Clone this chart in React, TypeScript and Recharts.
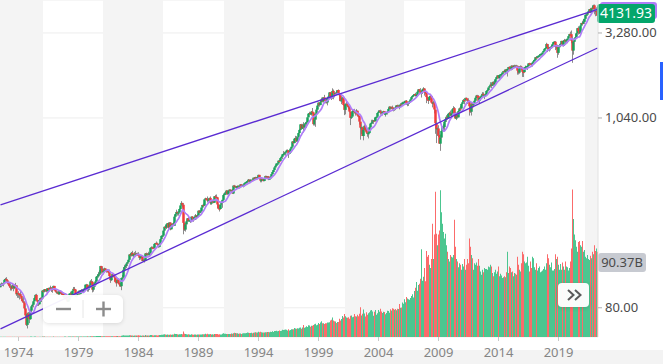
import React from "react";
import {
  ComposedChart,
  Bar,
  Line,
  Cell,
  XAxis,
  YAxis,
  CartesianGrid,
  ReferenceArea,
  ReferenceLine,
} from "recharts";

// monthly candles, Jul 1972 .. Apr 2022
const FIRST_YEAR = 1972;
const FIRST_MONTH = 7;
const PREV_CLOSE = 107.1;

const closes = [
  107.4, 111.1, 110.6, 111.6, 116.7, 118.1,
  116.0, 111.7, 111.5, 107.0, 105.0, 104.3, 108.2, 104.3, 108.4, 108.3, 96.0, 97.6,
  96.6, 96.2, 94.0, 90.3, 87.3, 86.0, 79.3, 72.2, 63.5, 73.9, 70.0, 68.6,
  77.0, 81.6, 83.4, 87.3, 91.2, 95.2, 88.8, 86.9, 83.9, 89.0, 91.2, 90.2,
  100.9, 99.7, 102.8, 101.6, 100.2, 104.3, 103.4, 102.9, 105.2, 102.9, 102.1, 107.5,
  102.0, 99.8, 98.4, 98.4, 96.1, 100.5, 98.9, 96.8, 96.5, 92.3, 94.8, 95.1,
  89.3, 87.0, 89.2, 96.8, 97.2, 95.5, 100.7, 103.3, 102.5, 93.2, 94.7, 96.1,
  99.9, 96.3, 101.6, 101.8, 99.1, 102.9, 103.8, 109.3, 109.3, 101.8, 106.2, 107.9,
  114.2, 113.7, 102.1, 106.3, 111.2, 114.2, 121.7, 122.4, 125.5, 127.5, 140.5, 135.8,
  129.6, 131.3, 136.0, 132.8, 132.6, 131.2, 130.9, 122.8, 116.2, 121.9, 126.4, 122.6,
  120.4, 113.1, 112.0, 116.4, 111.9, 109.6, 107.1, 119.5, 120.4, 133.7, 138.5, 140.6,
  145.3, 148.1, 153.0, 164.4, 162.4, 168.1, 162.6, 164.4, 166.1, 163.6, 166.4, 164.9,
  163.4, 157.1, 159.2, 160.1, 150.6, 153.2, 150.7, 166.7, 166.1, 166.1, 163.6, 167.2,
  179.6, 181.2, 180.7, 179.8, 189.6, 191.9, 190.9, 188.6, 182.1, 189.8, 202.2, 211.3,
  212, 227, 239, 236, 247, 251, 236, 253, 231, 244, 249, 242,
  274, 284, 292, 288, 290, 304, 319, 330, 322, 252, 230, 247,
  257, 268, 259, 261, 262, 274, 272, 262, 272, 279, 274, 278,
  297, 289, 295, 310, 321, 318, 346, 351, 349, 340, 346, 353,
  329, 332, 340, 331, 361, 358, 356, 323, 306, 304, 322, 330,
  344, 367, 375, 375, 390, 371, 388, 395, 388, 392, 375, 417,
  409, 413, 404, 415, 415, 408, 424, 414, 418, 419, 431, 436,
  439, 443, 452, 440, 450, 451, 448, 464, 459, 468, 462, 466,
  482, 467, 446, 451, 457, 444, 458, 475, 463, 472, 454, 459,
  470, 487, 501, 515, 533, 545, 562, 562, 584, 582, 605, 616,
  636, 640, 646, 654, 669, 671, 640, 652, 687, 705, 757, 741,
  786, 791, 757, 801, 848, 885, 954, 899, 947, 915, 955, 970,
  980, 1049, 1102, 1112, 1091, 1134, 1121, 957, 1017, 1099, 1164, 1229,
  1280, 1238, 1286, 1335, 1302, 1373, 1329, 1320, 1283, 1363, 1389, 1469,
  1394, 1366, 1499, 1452, 1421, 1455, 1431, 1518, 1437, 1429, 1315, 1320,
  1366, 1240, 1160, 1249, 1256, 1224, 1211, 1134, 1041, 1060, 1139, 1148,
  1130, 1107, 1147, 1077, 1067, 990, 912, 916, 815, 886, 936, 880,
  856, 841, 848, 917, 964, 975, 990, 1008, 996, 1051, 1058, 1112,
  1131, 1145, 1126, 1107, 1121, 1141, 1102, 1104, 1115, 1130, 1174, 1212,
  1181, 1204, 1181, 1157, 1192, 1191, 1234, 1220, 1229, 1207, 1249, 1248,
  1280, 1281, 1295, 1311, 1270, 1270, 1277, 1304, 1336, 1378, 1401, 1418,
  1438, 1407, 1421, 1482, 1531, 1503, 1455, 1474, 1527, 1549, 1481, 1468,
  1379, 1331, 1323, 1386, 1400, 1280, 1267, 1283, 1166, 969, 896, 903,
  826, 735, 798, 873, 919, 919, 987, 1021, 1057, 1036, 1096, 1115,
  1074, 1104, 1169, 1187, 1089, 1031, 1102, 1049, 1141, 1183, 1181, 1258,
  1286, 1327, 1326, 1364, 1345, 1321, 1292, 1219, 1131, 1253, 1247, 1258,
  1312, 1366, 1408, 1398, 1310, 1362, 1379, 1407, 1441, 1412, 1416, 1426,
  1498, 1515, 1569, 1598, 1631, 1606, 1686, 1633, 1682, 1757, 1806, 1848,
  1783, 1859, 1872, 1884, 1924, 1960, 1931, 2003, 1972, 2018, 2068, 2059,
  1995, 2105, 2068, 2086, 2107, 2063, 2104, 1972, 1920, 2079, 2080, 2044,
  1940, 1932, 2060, 2065, 2097, 2099, 2174, 2171, 2168, 2126, 2199, 2239,
  2279, 2364, 2363, 2384, 2412, 2423, 2470, 2472, 2519, 2575, 2648, 2674,
  2824, 2714, 2641, 2648, 2705, 2718, 2816, 2902, 2914, 2712, 2760, 2507,
  2704, 2784, 2834, 2946, 2752, 2942, 2980, 2926, 2977, 3038, 3141, 3231,
  3226, 2954, 2585, 2912, 3044, 3100, 3271, 3500, 3363, 3270, 3622, 3756,
  3714, 3811, 3973, 4181, 4204, 4298, 4395, 4523, 4308, 4605, 4567, 4766,
  4516, 4374, 4530, 4132,
];

const highs = [
  110, 112.6, 112, 112, 117.8, 119.8,
  121, 117, 114, 112, 112, 108, 110, 109, 110, 112, 108.5, 98,
  100, 97, 101, 94.5, 92, 93, 87, 82.5, 72.5, 75, 75.5, 71,
  78, 82.5, 84.5, 88, 92, 96, 96.6, 89, 87.5, 90.5, 92, 91.5,
  101.5, 101, 103, 103, 102.5, 104.5, 105, 105, 107.8, 105.5, 103.5, 107.8,
  107.5, 102.5, 101, 100, 99.5, 101, 101, 99, 97.5, 97, 96, 95.5,
  95, 90.5, 89.5, 97, 99.5, 99.5, 101, 106, 106, 103, 96.5, 97,
  101, 100, 101.6, 103, 102, 103, 104.5, 109.5, 110.5, 110, 106.5, 109,
  116, 118, 115, 107, 112, 116.5, 123, 126, 130, 133, 141, 141,
  139, 132, 137.5, 136.5, 134, 135, 132, 134, 123, 123.5, 127, 127,
  123, 121, 114, 119, 119, 113, 112, 120, 124.5, 138.5, 143, 143,
  147, 149, 154, 165, 166.5, 170, 172.7, 165.5, 170, 172.7, 168, 168.5,
  169.5, 163.5, 161.5, 161, 162, 155, 154.5, 167.5, 168.5, 167.5, 170.5, 168.5,
  180.5, 183.5, 183, 183, 190, 192.5, 196, 193, 189, 191, 203, 213,
  214, 228, 240, 244, 248, 251, 253, 254, 254, 244, 251, 254,
  280, 285, 301, 294, 296, 306, 319, 338, 330, 328, 256, 248,
  260, 269, 272, 264, 263, 275, 276, 273, 273, 284, 280, 283,
  298, 300, 298, 310, 322, 327, 346, 354, 352, 360, 347, 354,
  360, 336, 344, 345, 362, 368, 370, 358, 326, 314, 324, 331,
  345, 370, 381, 384, 391, 391, 389, 396, 396, 394, 398, 418,
  421, 416, 413, 418, 419, 416, 425, 425, 423, 423, 432, 437,
  443, 448, 456, 452, 454, 452, 451, 464, 464, 470, 469, 471,
  483, 482, 472, 454, 459, 461, 459, 477, 476, 474, 475, 464,
  472, 488, 504, 515, 535, 551, 563, 565, 586, 590, 608, 622,
  638, 665, 659, 658, 678, 680, 673, 667, 691, 707, 759, 762,
  794, 817, 814, 805, 851, 898, 957, 961, 960, 983, 960, 986,
  993, 1050, 1106, 1131, 1122, 1141, 1190, 1121, 1066, 1104, 1193, 1245,
  1280, 1280, 1317, 1370, 1375, 1373, 1421, 1353, 1361, 1377, 1410, 1474,
  1479, 1445, 1553, 1527, 1482, 1474, 1497, 1518, 1530, 1450, 1433, 1390,
  1384, 1376, 1264, 1269, 1316, 1286, 1236, 1220, 1134, 1110, 1163, 1173,
  1177, 1131, 1173, 1147, 1106, 1070, 994, 965, 925, 907, 952, 954,
  935, 864, 896, 924, 966, 1015, 1016, 1011, 1040, 1053, 1063, 1112,
  1155, 1158, 1163, 1150, 1128, 1146, 1141, 1109, 1131, 1142, 1188, 1217,
  1212, 1212, 1229, 1192, 1199, 1219, 1237, 1245, 1243, 1233, 1271, 1276,
  1295, 1297, 1310, 1318, 1326, 1284, 1281, 1311, 1340, 1389, 1407, 1431,
  1441, 1462, 1439, 1499, 1535, 1540, 1556, 1504, 1539, 1576, 1552, 1524,
  1471, 1396, 1359, 1404, 1441, 1405, 1292, 1314, 1303, 1167, 1007, 919,
  943, 877, 832, 876, 930, 956, 997, 1039, 1080, 1101, 1111, 1130,
  1150, 1113, 1180, 1220, 1205, 1132, 1120, 1129, 1150, 1197, 1227, 1263,
  1303, 1345, 1333, 1367, 1371, 1346, 1357, 1308, 1230, 1293, 1277, 1270,
  1334, 1378, 1420, 1422, 1415, 1364, 1392, 1427, 1475, 1471, 1434, 1448,
  1504, 1531, 1570, 1598, 1687, 1655, 1698, 1709, 1730, 1765, 1813, 1849,
  1851, 1867, 1884, 1897, 1924, 1968, 1991, 2005, 2019, 2019, 2076, 2093,
  2065, 2119, 2118, 2126, 2135, 2131, 2133, 2113, 2021, 2094, 2117, 2105,
  2038, 1962, 2073, 2111, 2104, 2121, 2178, 2194, 2188, 2169, 2214, 2278,
  2301, 2372, 2401, 2398, 2418, 2454, 2484, 2491, 2520, 2582, 2657, 2695,
  2873, 2835, 2802, 2718, 2742, 2791, 2848, 2917, 2941, 2940, 2816, 2800,
  2708, 2813, 2860, 2950, 2954, 2964, 3028, 3014, 3022, 3050, 3156, 3248,
  3338, 3394, 3137, 2955, 3068, 3233, 3280, 3515, 3588, 3550, 3646, 3760,
  3870, 3951, 3981, 4218, 4238, 4302, 4429, 4537, 4546, 4608, 4744, 4808,
  4819, 4595, 4637, 4593,
];

const lows = [
  105.5, 106.5, 108, 106.8, 111, 114,
  114, 110, 108, 105, 101, 101, 103, 100, 103, 106, 94, 91.5,
  91.5, 89.5, 93, 88, 86, 85, 78, 71.5, 62.5, 60.5, 68, 65,
  68, 76, 80.5, 80.5, 87, 89.5, 88, 82, 82, 83.5, 88, 86.5,
  90, 98, 98.5, 99.5, 98.5, 99.5, 102.5, 101, 102, 99, 98, 102,
  101.5, 99, 97.5, 97, 95.5, 95.5, 98, 95.5, 95.5, 91.5, 90.5, 92.5,
  88.5, 86.5, 86.5, 88.5, 95.5, 94.5, 94.5, 100, 101, 92.5, 92, 93,
  96, 95.5, 96, 100, 98, 98.5, 101.5, 103.5, 106, 99.5, 99.5, 106,
  104.5, 111, 98.5, 99.5, 104.5, 110.5, 113, 119, 121, 123.5, 125, 127,
  128.5, 125.5, 130, 131, 128.5, 129, 127.5, 122, 112, 115, 120.5, 121.5,
  114.5, 112.5, 106.5, 111.5, 110, 106.5, 106, 101.5, 117, 120, 131, 133,
  137, 141, 147, 152, 159.5, 160, 160.5, 158.5, 162.5, 161.5, 161.5, 161.5,
  162, 152.5, 153.5, 155.5, 150, 148.5, 147.5, 150.5, 162, 161.5, 162, 161,
  163.5, 177.5, 176.5, 177, 178, 187, 189, 186, 180, 181, 189, 200,
  203, 211, 225, 232, 232, 240, 233, 234, 228, 231, 239, 241,
  242, 271, 282, 278, 278, 289, 302, 317, 310, 216, 226, 224,
  242, 255, 257, 256, 252, 261, 264, 256, 261, 271, 264, 272,
  274, 287, 287, 292, 308, 316, 317, 340, 343, 332, 336, 342,
  322, 322, 331, 329, 330, 357, 355, 306, 304, 294, 303, 322,
  309, 342, 363, 371, 372, 369, 370, 380, 384, 381, 374, 372,
  406, 406, 400, 401, 410, 401, 406, 412, 413, 407, 418, 425,
  428, 431, 441, 437, 438, 442, 442, 446, 455, 458, 457, 461,
  464, 466, 436, 436, 443, 441, 442, 456, 461, 459, 449, 451,
  458, 469, 485, 499, 512, 530, 543, 553, 560, 573, 580, 602,
  597, 632, 628, 625, 651, 660, 606, 636, 649, 685, 703, 721,
  738, 771, 755, 733, 800, 841, 883, 898, 899, 855, 902, 924,
  912, 979, 1047, 1097, 1085, 1074, 1114, 940, 939, 923, 1098, 1136,
  1205, 1212, 1236, 1281, 1288, 1281, 1329, 1268, 1263, 1233, 1341, 1387,
  1350, 1326, 1347, 1339, 1374, 1420, 1420, 1430, 1420, 1306, 1310, 1254,
  1275, 1228, 1081, 1092, 1243, 1203, 1168, 1124, 945, 1026, 1054, 1114,
  1107, 1074, 1106, 1064, 1048, 952, 776, 838, 815, 769, 873, 872,
  841, 807, 789, 848, 902, 963, 962, 960, 990, 995, 1031, 1053,
  1106, 1124, 1088, 1107, 1076, 1113, 1084, 1060, 1102, 1090, 1128, 1173,
  1163, 1180, 1176, 1137, 1146, 1188, 1191, 1201, 1201, 1169, 1201, 1246,
  1245, 1253, 1277, 1280, 1245, 1219, 1224, 1260, 1290, 1327, 1360, 1394,
  1403, 1389, 1364, 1416, 1476, 1484, 1452, 1371, 1439, 1489, 1407, 1435,
  1271, 1317, 1257, 1313, 1373, 1272, 1200, 1248, 1106, 840, 741, 815,
  805, 735, 667, 784, 866, 888, 869, 979, 992, 1020, 1029, 1086,
  1071, 1045, 1105, 1170, 1040, 1029, 1011, 1040, 1049, 1132, 1173, 1182,
  1257, 1282, 1249, 1299, 1311, 1258, 1283, 1074, 1114, 1075, 1159, 1202,
  1259, 1310, 1341, 1358, 1292, 1267, 1325, 1378, 1397, 1403, 1343, 1398,
  1426, 1485, 1502, 1536, 1581, 1560, 1605, 1627, 1633, 1646, 1746, 1767,
  1770, 1737, 1834, 1814, 1860, 1915, 1930, 1905, 1964, 1821, 2001, 1973,
  1988, 1981, 2039, 2048, 2068, 2056, 2044, 1867, 1872, 1893, 2020, 1993,
  1812, 1810, 1937, 2034, 2026, 1992, 2074, 2147, 2120, 2097, 2084, 2188,
  2245, 2272, 2322, 2329, 2353, 2405, 2407, 2418, 2447, 2520, 2566, 2605,
  2683, 2533, 2585, 2553, 2594, 2698, 2699, 2796, 2864, 2603, 2631, 2347,
  2444, 2682, 2722, 2849, 2750, 2729, 2952, 2822, 2891, 2856, 3051, 3070,
  3214, 2855, 2192, 2447, 2767, 2999, 3101, 3205, 3210, 3234, 3279, 3633,
  3662, 3725, 3723, 3955, 4056, 4165, 4234, 4368, 4306, 4279, 4560, 4495,
  4223, 4115, 4157, 4124,
];

// monthly volume, billions
const volumes = [
  0.3, 0.3, 0.3, 0.3, 0.4, 0.4,
  0.4, 0.3, 0.3, 0.3, 0.3, 0.3, 0.3, 0.3, 0.3, 0.4, 0.4, 0.4,
  0.3, 0.3, 0.3, 0.3, 0.3, 0.3, 0.3, 0.3, 0.3, 0.4, 0.3, 0.3,
  0.5, 0.5, 0.4, 0.4, 0.5, 0.5, 0.4, 0.3, 0.3, 0.3, 0.3, 0.3,
  0.6, 0.6, 0.5, 0.4, 0.4, 0.4, 0.4, 0.4, 0.4, 0.4, 0.4, 0.5,
  0.4, 0.4, 0.4, 0.4, 0.4, 0.4, 0.4, 0.4, 0.4, 0.4, 0.5, 0.5,
  0.4, 0.4, 0.5, 0.6, 0.6, 0.5, 0.6, 0.7, 0.6, 0.6, 0.5, 0.5,
  0.6, 0.6, 0.6, 0.6, 0.6, 0.6, 0.6, 0.7, 0.7, 0.8, 0.7, 0.7,
  1.0, 0.9, 0.9, 0.8, 0.8, 0.9, 1.1, 1.1, 1.1, 1.1, 1.1, 1.0,
  1.0, 0.9, 1.0, 1.0, 0.9, 0.9, 0.8, 0.9, 1.0, 1.0, 1.0, 0.9,
  1.0, 1.0, 1.1, 1.1, 1.0, 1.0, 1.0, 1.6, 1.7, 2.0, 1.8, 1.7,
  1.9, 1.9, 1.9, 2.0, 2.0, 1.9, 1.7, 1.6, 1.7, 1.8, 1.9, 1.7,
  2.0, 1.8, 1.7, 1.6, 1.7, 1.7, 1.6, 2.4, 1.8, 1.9, 1.8, 1.8,
  2.3, 2.3, 2.0, 1.9, 2.2, 2.0, 2.1, 1.9, 2.0, 2.3, 2.5, 2.8,
  2.8, 2.9, 3.3, 3.1, 2.8, 2.9, 2.8, 2.8, 3.0, 2.6, 3.0, 3.1,
  3.9, 3.7, 3.8, 3.5, 3.0, 3.3, 3.4, 3.8, 3.4, 6.8, 3.9, 3.6,
  3.4, 3.2, 3.3, 2.9, 2.8, 3.4, 2.9, 2.8, 2.9, 3.0, 2.8, 2.9,
  3.2, 3.1, 3.1, 3.1, 3.5, 3.4, 3.3, 3.9, 3.5, 3.9, 3.4, 3.5,
  3.6, 3.1, 3.3, 3.1, 3.8, 3.6, 3.6, 3.8, 3.2, 3.3, 3.1, 3.2,
  3.9, 4.6, 4.1, 3.9, 3.8, 3.8, 3.8, 3.6, 3.8, 4.3, 4.1, 4.6,
  5.1, 4.8, 4.5, 4.5, 3.9, 4.3, 4.2, 3.8, 4.4, 4.6, 4.5, 4.5,
  5.0, 5.4, 5.1, 5.0, 5.0, 5.2, 4.7, 5.1, 5.6, 5.9, 5.5, 5.4,
  6.4, 5.8, 6.5, 5.9, 5.6, 5.6, 5.4, 5.9, 5.9, 6.1, 6.0, 5.9,
  6.5, 6.2, 6.9, 6.2, 7.2, 7.4, 7.6, 7.1, 7.3, 7.8, 7.4, 7.6,
  8.9, 8.4, 8.7, 9.1, 8.9, 7.9, 9.4, 7.9, 8.6, 9.3, 9.4, 9.5,
  11.0, 10.5, 10.0, 10.6, 10.3, 11.4, 11.7, 10.2, 11.5, 14.5, 11.2, 12.0,
  13.0, 12.3, 14.4, 14.1, 12.6, 13.8, 13.8, 14.6, 15.6, 16.3, 14.4, 15.0,
  17.0, 15.8, 17.6, 19.2, 16.9, 16.7, 16.0, 16.7, 16.8, 17.6, 17.7, 18.1,
  20.2, 20.9, 23.9, 20.1, 19.2, 19.0, 17.1, 18.4, 18.4, 22.3, 20.2, 22.0,
  25.5, 23.7, 28.0, 25.4, 23.9, 23.4, 24.0, 22.2, 26.0, 26.3, 24.1, 24.6,
  28.1, 25.4, 25.1, 27.2, 25.2, 28.5, 36.4, 26.3, 28.3, 33.6, 28.6, 24.9,
  30.3, 27.2, 29.1, 30.3, 32.2, 33.0, 31.1, 25.9, 30.7, 33.0, 27.0, 28.9,
  33.0, 30.8, 34.4, 31.0, 29.2, 30.7, 30.5, 27.6, 29.2, 31.9, 31.7, 29.6,
  33.9, 32.4, 35.1, 34.5, 33.2, 34.2, 32.5, 34.5, 34.0, 40.2, 35.7, 36.0,
  42, 40.5, 46, 42.5, 48.7, 47, 46, 45.5, 47.5, 50, 52, 48.2,
  56, 60.2, 67, 56.5, 63.5, 65, 71, 107, 68.5, 73.5, 84, 68,
  105, 98, 100, 88, 84, 95, 138, 95, 125, 177, 126, 112,
  125, 130, 179, 152, 138, 128, 120, 126, 112, 104, 95, 92,
  100, 98, 97, 100, 143, 110, 95, 92, 85, 90, 88, 82,
  89, 86, 95, 82, 88, 95, 90, 120, 110, 100, 96, 82,
  90, 88, 91, 87, 95, 87, 80, 76, 82, 79, 84, 83,
  83, 82, 86, 85, 88, 86, 78, 74, 79, 82, 77, 80,
  86, 74, 77, 75, 72, 73, 74, 73, 79, 104, 78, 86,
  84, 79, 80, 74, 78, 77, 76, 98, 88, 82, 80, 90,
  104, 101, 92, 90, 91, 98, 87, 80, 92, 84, 98, 96,
  85, 82, 90, 81, 84, 86, 79, 80, 81, 83, 86, 82,
  90, 101, 96, 88, 85, 91, 81, 81, 83, 101, 95, 98,
  88, 82, 89, 82, 91, 86, 82, 92, 86, 85, 81, 84,
  92, 108, 180, 144, 125, 118, 110, 104, 116, 117, 112, 110,
  117, 104, 106, 98, 96, 100, 95, 94, 99, 96, 104, 101,
  112, 105, 108, 104,
];

const yearTicks = ["1974", "1979", "1984", "1989", "1994", "1999", "2004", "2009", "2014", "2019"];
const priceTicks = [80, 1040, 3280];
const upperTrend = [321, 4506];
const lowerTrend = [60.1, 2678];
const lastPriceLabel = "4131.93";
const lastPrice = 4131.93;
const lastVolume = 90.37;
const lastVolumeLabel = "90.37B";
const MA_LEN = 9;

// alternating background bands (month index ranges)
const bands = [
  [0, 42],
  [103, 162],
  [224, 283],
  [345, 403],
  [465, 524],
  [585, 597],
];

const GREEN = "#17a45c";
const RED = "#f23b3b";
const WICK = "#8c8c8c";
const VOL_GREEN = "#4cc690";
const VOL_RED = "#fb6b6b";
const TREND = "#5a2bd2";
const MA_COLOR = "#b07ef8";
const FONT = "'Noto Sans', 'Open Sans', sans-serif";

const last = closes.length - 1;
const rows = closes.map((close, i) => {
  const open = i === 0 ? PREV_CLOSE : closes[i - 1];
  const m = FIRST_MONTH - 1 + i;
  const win = closes.slice(Math.max(0, i - MA_LEN + 1), i + 1);
  return {
    i,
    year: FIRST_YEAR + Math.floor(m / 12),
    month: (m % 12) + 1,
    open,
    close,
    high: Math.max(highs[i], open, close),
    low: Math.min(lows[i], open, close),
    vol: volumes[i],
    ma: win.reduce((a, b) => a + b, 0) / win.length,
    ut: i === 0 ? upperTrend[0] : i === last ? upperTrend[1] : null,
    lt: i === 0 ? lowerTrend[0] : i === last ? lowerTrend[1] : null,
  };
});

const tickIdx = yearTicks.map(
  (y) => rows.find((r) => r.year === Number(y) && r.month === 1)!.i
);
const yearOf = (i: number) => String(rows[i]?.year ?? "");

const Candle = (props: any) => {
  const { x, y, width, height, payload } = props;
  if (payload == null || y == null || height == null) return null;
  const { open, close, high, low } = payload;
  const lh = Math.log(high);
  const ll = Math.log(low);
  const py = (v: number) => y + (height * (lh - Math.log(v))) / (lh - ll || 1);
  const cx = x + width / 2;
  const top = py(Math.max(open, close));
  const bot = py(Math.min(open, close));
  return (
    <g>
      <rect x={cx - 0.5} y={y} width={1} height={Math.max(height, 1)} fill={WICK} />
      <rect
        x={cx - 1.25}
        y={top}
        width={2.5}
        height={Math.max(bot - top, 1.2)}
        fill={close >= open ? GREEN : RED}
      />
    </g>
  );
};

const PriceTick = ({ y, payload }: any) => (
  <text x={605} y={y + 4.5} fill="#4a4a4a" fontSize={13} fontFamily={FONT}>
    {Number(payload.value).toLocaleString("en-US", { minimumFractionDigits: 2 })}
  </text>
);

const YearTick = ({ x, payload }: any) => (
  <text x={x} y={357} textAnchor="middle" fill="#858585" fontSize={13} fontFamily={FONT}>
    {yearOf(payload.value)}
  </text>
);

const MaTag = ({ viewBox }: any) => (
  <rect x={viewBox.x + viewBox.width + 2} y={viewBox.y - 8} width={57} height={17} rx={3} fill={MA_COLOR} />
);

const PriceTag = ({ viewBox }: any) => (
  <g>
    <rect x={viewBox.x + viewBox.width - 1} y={viewBox.y - 12} width={58} height={19} rx={3} fill="#04a66b" />
    <text
      x={viewBox.x + viewBox.width + 28}
      y={viewBox.y + 2.5}
      textAnchor="middle"
      fill="#ffffff"
      fontSize={14}
      fontFamily={FONT}
    >
      {lastPriceLabel}
    </text>
  </g>
);

const VolumeTag = ({ viewBox }: any) => (
  <g>
    <rect x={viewBox.x + viewBox.width} y={viewBox.y - 10} width={48} height={19} rx={3} fill="#c7cad1" />
    <text x={viewBox.x + viewBox.width + 24} y={viewBox.y + 4} textAnchor="middle" fill="#4a4a4a" fontSize={13} fontFamily={FONT}>
      {lastVolumeLabel}
    </text>
  </g>
);

const App = () => {
  return (
    <div style={{ position: "absolute", left: 0, top: 0, width: 663, height: 364, background: "#fff", overflow: "hidden" }}>
      <div style={{ position: "absolute", left: 0, top: 350, width: 663, height: 14, background: "#f3f3f3" }} />
      <div style={{ position: "absolute", left: 0, top: 0 }}>
        <ComposedChart
          width={663}
          height={364}
          data={rows}
          margin={{ top: 0, right: 0, bottom: 0, left: 0 }}
          barCategoryGap={0}
          barGap={0}
        >
          <XAxis
            xAxisId="x"
            dataKey="i"
            type="category"
            ticks={tickIdx}
            interval={0}
            height={27}
            axisLine={false}
            tickLine={{ stroke: "#c8c8c8" }}
            tickSize={4}
            tick={<YearTick />}
          />
          <XAxis xAxisId="xv" dataKey="i" type="category" hide />
          <YAxis
            yAxisId="p"
            orientation="right"
            scale="log"
            domain={[53.9, 5122]}
            allowDataOverflow
            ticks={priceTicks}
            interval={0}
            width={65}
            axisLine={{ stroke: "#e2e2e2" }}
            tickLine={{ stroke: "#b0b0b0" }}
            tickSize={4}
            tick={<PriceTick />}
          />
          <YAxis yAxisId="v" hide domain={[0, 411]} allowDataOverflow />
          {bands.map(([a, b], k) => (
            <ReferenceArea
              key={k}
              xAxisId="x"
              yAxisId="p"
              x1={a}
              x2={b}
              fill="#f4f4f4"
              fillOpacity={1}
              stroke="none"
            />
          ))}
          <CartesianGrid xAxisId="x" yAxisId="p" vertical={false} stroke="#ededed" />
          <Bar xAxisId="xv" yAxisId="v" dataKey="vol" isAnimationActive={false}>
            {rows.map((r) => (
              <Cell key={r.i} fill={r.close >= r.open ? VOL_GREEN : VOL_RED} />
            ))}
          </Bar>
          <Bar
            xAxisId="x"
            yAxisId="p"
            dataKey={(r: any) => [r.low, r.high]}
            shape={(p: any) => <Candle {...p} />}
            isAnimationActive={false}
          />
          <Line
            xAxisId="x"
            yAxisId="p"
            dataKey="ma"
            stroke={MA_COLOR}
            strokeWidth={1.7}
            dot={false}
            activeDot={false}
            isAnimationActive={false}
          />
          <Line
            xAxisId="x"
            yAxisId="p"
            dataKey="ut"
            stroke={TREND}
            strokeWidth={1.3}
            dot={false}
            activeDot={false}
            connectNulls
            isAnimationActive={false}
          />
          <Line
            xAxisId="x"
            yAxisId="p"
            dataKey="lt"
            stroke={TREND}
            strokeWidth={1.3}
            dot={false}
            activeDot={false}
            connectNulls
            isAnimationActive={false}
          />
          <ReferenceLine xAxisId="x" yAxisId="p" y={rows[last].ma} stroke="none" label={<MaTag />} />
          <ReferenceLine xAxisId="x" yAxisId="p" y={lastPrice} stroke="none" label={<PriceTag />} />
          <ReferenceLine xAxisId="x" yAxisId="v" y={lastVolume} stroke="none" label={<VolumeTag />} />
        </ComposedChart>
      </div>
      {/* zoom buttons */}
      <div
        style={{
          position: "absolute",
          left: 43,
          top: 295,
          width: 80,
          height: 28,
          background: "rgba(255,255,255,0.94)",
          borderRadius: 6,
          boxShadow: "0 1px 4px rgba(0,0,0,0.12)",
        }}
      >
        <svg width={80} height={28} style={{ display: "block" }}>
          <line x1={13} y1={14} x2={28} y2={14} stroke="#8c8c8c" strokeWidth={2.4} />
          <line x1={40} y1={5} x2={40} y2={23} stroke="#e6e6e6" strokeWidth={1} />
          <line x1={53} y1={14} x2={68} y2={14} stroke="#8c8c8c" strokeWidth={2.4} />
          <line x1={60.5} y1={6.5} x2={60.5} y2={21.5} stroke="#8c8c8c" strokeWidth={2.4} />
        </svg>
      </div>
      {/* scroll to realtime */}
      <div
        style={{
          position: "absolute",
          left: 558,
          top: 283,
          width: 31,
          height: 24,
          background: "rgba(255,255,255,0.96)",
          borderRadius: 4,
          boxShadow: "0 1px 4px rgba(0,0,0,0.15)",
        }}
      >
        <svg width={31} height={24} style={{ display: "block" }}>
          <polyline points="10,7 15.5,12 10,17" fill="none" stroke="#5a5a5a" strokeWidth={2} />
          <polyline points="17,7 22.5,12 17,17" fill="none" stroke="#5a5a5a" strokeWidth={2} />
        </svg>
      </div>
      <div style={{ position: "absolute", left: 660, top: 62, width: 3, height: 38, background: "#2962ff" }} />
    </div>
  );
};

export default App;
